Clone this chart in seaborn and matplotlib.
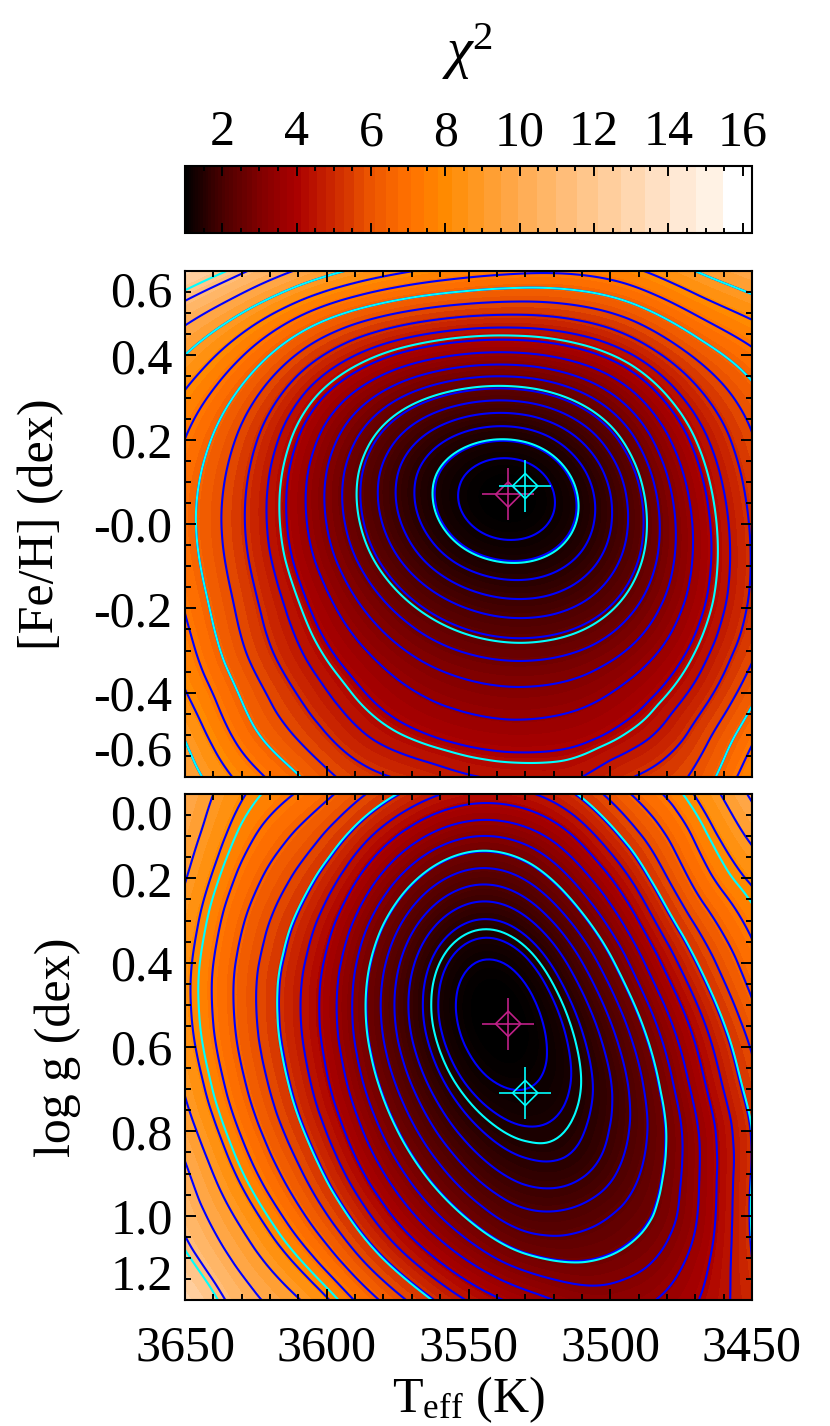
# chi2 maps in the Teff-[Fe/H] and Teff-log g planes

import numpy as np
import matplotlib
matplotlib.use('Agg')
import matplotlib.pyplot as plt
import matplotlib.colors as mcolors
import matplotlib.tri as mtri
from matplotlib.ticker import MultipleLocator
import pandas as pd
import seaborn as sns

teff_grid = [3650, 3630, 3610, 3590, 3570, 3550, 3530, 3510, 3490, 3470, 3450]
feh_grid = [0.6, 0.5, 0.4, 0.3, 0.2, 0.1, 0.0, -0.1, -0.2, -0.3, -0.4, -0.5, -0.6]
logg_grid = [0.0, 0.1, 0.2, 0.3, 0.4, 0.5, 0.6, 0.7, 0.8, 0.9, 1.0, 1.1, 1.2]

chi2_feh = [
    [12.95, 11.37, 9.87, 8.78, 8.07, 7.62, 7.38, 7.44, 7.97, 8.95, 9.82],
    [10.56, 8.95, 7.43, 6.33, 5.66, 5.31, 5.23, 5.49, 6.20, 7.31, 8.27],
    [8.94, 7.30, 5.72, 4.55, 3.82, 3.46, 3.44, 3.81, 4.65, 5.90, 7.04],
    [7.89, 6.24, 4.62, 3.38, 2.58, 2.18, 2.16, 2.58, 3.50, 4.87, 6.23],
    [7.24, 5.61, 4.00, 2.72, 1.86, 1.42, 1.38, 1.81, 2.76, 4.19, 5.73],
    [6.89, 5.31, 3.73, 2.46, 1.58, 1.11, 1.04, 1.44, 2.36, 3.79, 5.42],
    [6.80, 5.24, 3.73, 2.51, 1.65, 1.16, 1.07, 1.41, 2.25, 3.60, 5.24],
    [6.93, 5.37, 3.93, 2.78, 1.97, 1.50, 1.39, 1.66, 2.39, 3.61, 5.19],
    [7.21, 5.61, 4.26, 3.20, 2.47, 2.04, 1.91, 2.12, 2.74, 3.81, 5.30],
    [7.58, 5.90, 4.61, 3.67, 3.02, 2.65, 2.54, 2.71, 3.23, 4.19, 5.64],
    [8.10, 6.40, 5.10, 4.15, 3.56, 3.25, 3.16, 3.31, 3.79, 4.71, 6.26],
    [8.85, 6.95, 5.70, 4.70, 4.13, 3.83, 3.74, 3.88, 4.36, 5.36, 7.05],
    [9.50, 7.80, 6.55, 5.50, 5.00, 4.60, 4.45, 4.55, 5.20, 5.95, 7.85],
]

chi2_logg = [
    [9.99, 8.14, 7.18, 6.04, 4.95, 4.34, 4.46, 5.30, 6.69, 8.10, 10.20],
    [9.52, 7.58, 6.33, 4.95, 3.74, 3.11, 3.28, 4.21, 5.70, 7.35, 9.18],
    [9.01, 7.04, 5.61, 4.10, 2.82, 2.19, 2.38, 3.32, 4.82, 6.71, 8.20],
    [8.58, 6.59, 5.06, 3.48, 2.19, 1.56, 1.72, 2.59, 4.03, 5.90, 7.50],
    [8.32, 6.31, 4.73, 3.12, 1.83, 1.18, 1.28, 2.04, 3.35, 5.13, 6.95],
    [8.28, 6.24, 4.61, 3.00, 1.72, 1.06, 1.07, 1.68, 2.82, 4.48, 6.41],
    [8.47, 6.37, 4.70, 3.09, 1.82, 1.13, 1.04, 1.48, 2.45, 3.99, 5.87],
    [8.87, 6.68, 4.95, 3.34, 2.08, 1.34, 1.15, 1.43, 2.24, 3.67, 5.50],
    [9.46, 7.16, 5.36, 3.73, 2.45, 1.66, 1.36, 1.52, 2.20, 3.43, 5.20],
    [10.21, 7.81, 5.94, 4.26, 2.94, 2.08, 1.67, 1.74, 2.33, 3.41, 5.19],
    [10.85, 8.66, 6.72, 4.99, 3.59, 2.65, 2.14, 2.18, 2.57, 3.47, 5.24],
    [11.70, 9.60, 7.76, 5.96, 4.49, 3.44, 2.80, 2.66, 2.92, 3.69, 5.15],
    [13.00, 10.60, 9.01, 7.21, 5.66, 4.50, 3.78, 3.34, 3.41, 3.97, 4.97],
]

blue_levels = [1.15, 1.33, 1.54, 1.78, 2.05, 2.35, 2.7, 3.08, 3.52, 4.02, 4.55,
               5.15, 5.8, 6.5, 7.25, 8.05, 8.95, 10.0, 11.2]
cyan_feh = [1.35, 2.42, 4.2, 6.5, 8.95, 11.8]
cyan_logg = [1.42, 2.72, 5.2, 7.75, 11.5]

# best fit points: magenta, cyan
best_teff = [3536, 3530]
best_feh = [0.07, 0.09]
best_logg = [0.545, 0.709]
best_colors = ['#C02088', '#00FFFF']

cbar_ticks = [2, 4, 6, 8, 10, 12, 14, 16]
feh_ticks = [0.6, 0.4, 0.2, 0.0, -0.2, -0.4, -0.6]
feh_labels = ['0.6', '0.4', '0.2', '-0.0', '-0.2', '-0.4', '-0.6']
logg_ticks = [0.0, 0.2, 0.4, 0.6, 0.8, 1.0, 1.2]
logg_labels = ['0.0', '0.2', '0.4', '0.6', '0.8', '1.0', '1.2']
teff_ticks = [3650, 3600, 3550, 3500, 3450]

sns.set_theme(style='ticks')
plt.rcParams['font.family'] = ['Liberation Serif', 'DejaVu Serif']
plt.rcParams['mathtext.fontset'] = 'custom'
plt.rcParams['mathtext.rm'] = 'Liberation Serif'
plt.rcParams['mathtext.it'] = 'Liberation Serif:italic'
plt.rcParams['axes.linewidth'] = 1.5
plt.rcParams['axes.edgecolor'] = 'black'
plt.rcParams['text.color'] = 'black'
plt.rcParams['axes.labelcolor'] = 'black'
plt.rcParams['xtick.color'] = 'black'
plt.rcParams['ytick.color'] = 'black'
plt.rcParams['axes.axisbelow'] = False

V_MIN, V_MAX = 1.0, 16.25
cmap_points = [(1, '#000000'), (2, '#4A0000'), (3, '#800000'), (4, '#AA0000'),
               (5, '#CC2800'), (6, '#EC5500'), (7, '#FF7000'), (8, '#FF8A00'),
               (10, '#FFAB50'), (12, '#FFC890'), (14, '#FFE4CC'), (15.3, '#FFF4E8'),
               (15.7, '#FFFFFF'), (16.25, '#FFFFFF')]
chi_cmap = mcolors.LinearSegmentedColormap.from_list(
    'chi', [((v - V_MIN) / (V_MAX - V_MIN), c) for v, c in cmap_points], N=512)
chi_norm = mcolors.Normalize(V_MIN, V_MAX)
fill_levels = np.geomspace(V_MIN, V_MAX, 58)

W, H = 830, 1426
fig = plt.figure(figsize=(W / 100, H / 100))


def px_axes(x0, y0, x1, y1):
    return fig.add_axes([x0 / W, 1 - y1 / H, (x1 - x0) / W, (y1 - y0) / H])


def smooth_field(xs, ys, values):
    # triangulate on the index grid, the axes have very different units
    ii, jj = np.meshgrid(np.arange(len(xs)), np.arange(len(ys)))
    triangles = mtri.Triangulation(ii.ravel().astype(float), jj.ravel().astype(float)).triangles
    xx, yy = np.meshgrid(xs, ys)
    t = mtri.Triangulation(xx.ravel(), yy.ravel(), triangles)
    z = np.array(values).ravel()
    fine_t, fine_z = mtri.UniformTriRefiner(t).refine_field(
        z, mtri.CubicTriInterpolator(t, z, kind='min_E'), subdiv=4)
    return fine_t, np.clip(fine_z, V_MIN + 0.001, V_MAX - 0.001)


def draw_panel(ax, ys, values, cyan, best_y):
    fine_t, fine_z = smooth_field(teff_grid, ys, values)
    cf = ax.tricontourf(fine_t, fine_z, levels=fill_levels, cmap=chi_cmap, norm=chi_norm)
    ax.tricontour(fine_t, fine_z, levels=blue_levels, colors='#0000FF', linewidths=1.5)
    ax.tricontour(fine_t, fine_z, levels=cyan, colors='#00FFFF', linewidths=1.5)
    best = pd.DataFrame({'teff': best_teff, 'y': best_y, 'c': best_colors})
    for i in range(len(best)):
        one = best.iloc[[i]]
        col = best_colors[i]
        sns.scatterplot(data=one, x='teff', y='y', marker='D', s=165, facecolor='none',
                        edgecolor=col, linewidth=1.2, ax=ax, legend=False, zorder=5)
        sns.scatterplot(data=one, x='teff', y='y', marker='+', s=1450, color=col,
                        linewidth=1.2, ax=ax, legend=False, zorder=5)
    ax.set_xlim(3650, 3450)
    ax.xaxis.set_major_locator(MultipleLocator(50))
    ax.xaxis.set_minor_locator(MultipleLocator(10))
    ax.yaxis.set_minor_locator(MultipleLocator(0.05))
    ax.tick_params(which='major', direction='in', top=True, right=True, length=8, width=1.4,
                   labelsize=36, pad=9)
    ax.tick_params(which='minor', direction='in', top=True, right=True, length=4, width=1.4)
    ax.set_xlabel('')
    ax.set_ylabel('')
    return cf


ax_top = px_axes(185, 271, 752, 777)
ax_bot = px_axes(185, 794, 752, 1300)
cax = px_axes(185, 166, 752, 233)

cf = draw_panel(ax_top, feh_grid, chi2_feh, cyan_feh, best_feh)
ax_top.set_ylim(-0.6, 0.6)
ax_top.set_yticks(feh_ticks)
ax_top.set_yticklabels(feh_labels)
ax_top.tick_params(axis='x', labelbottom=False)
ax_top.get_yticklabels()[0].set_va('top')
ax_top.get_yticklabels()[-1].set_va('bottom')
ax_top.set_ylabel('[Fe/H] (dex)', fontsize=36, va='center')
ax_top.yaxis.set_label_coords((41 - 185) / 567, 0.5)

draw_panel(ax_bot, logg_grid, chi2_logg, cyan_logg, best_logg)
ax_bot.set_ylim(1.2, 0.0)
ax_bot.set_yticks(logg_ticks)
ax_bot.set_yticklabels(logg_labels)
ax_bot.get_yticklabels()[0].set_va('top')
ax_bot.get_yticklabels()[-1].set_va('bottom')
ax_bot.set_xticks(teff_ticks)
ax_bot.set_xticklabels([str(t) for t in teff_ticks])
ax_bot.tick_params(axis='x', which='major', pad=18)
ax_bot.set_ylabel('log g (dex)', fontsize=36, va='center')
ax_bot.yaxis.set_label_coords((58 - 185) / 567, 0.5)
ax_bot.set_xlabel(r'T$_{\rm eff}$ (K)', fontsize=36, va='center')
ax_bot.xaxis.set_label_coords(0.5, -(1400 - 1300) / 506)

cb = fig.colorbar(cf, cax=cax, orientation='horizontal', spacing='proportional')
cb.set_ticks(cbar_ticks)
cb.ax.set_xticklabels([str(t) for t in cbar_ticks])
cb.ax.xaxis.set_minor_locator(MultipleLocator(0.5))
cb.ax.tick_params(which='major', direction='in', top=True, bottom=True, labeltop=True,
                  labelbottom=False, length=7, width=1.4, labelsize=36, pad=7)
cb.ax.tick_params(which='minor', direction='in', top=True, bottom=True, length=3.5, width=1.4)
cb.ax.set_axisbelow(False)
cb.outline.set_linewidth(1.5)
cb.outline.set_edgecolor('black')

fig.text(467 / W, 1 - 52 / H, '\u03c7$^{2}$', fontsize=42, style='italic', ha='center', va='center')

fig.savefig('out.png', dpi=100)
